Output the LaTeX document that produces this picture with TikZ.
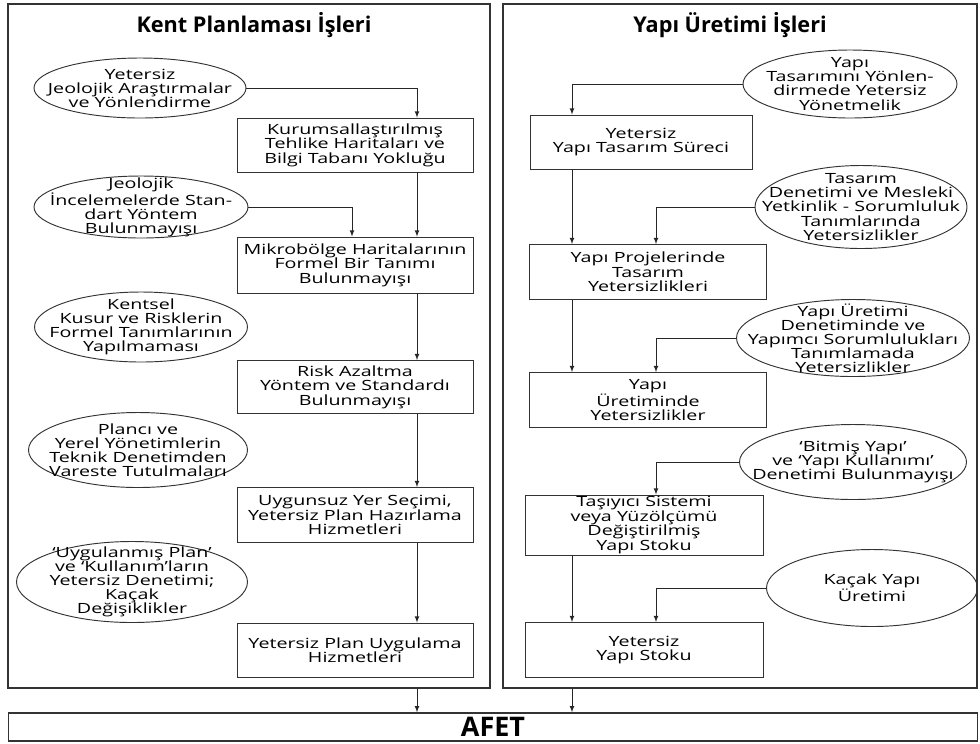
\documentclass[tikz,border=0pt]{standalone}
\usepackage{fontspec}
\setmainfont{Open Sans}
\newfontfamily\boxfont[FakeStretch=1.4]{Open Sans}
\newcommand{\issuefont}{\boxfont\fontsize{12}{12.4}\selectfont}
\newcommand{\causefont}{\boxfont\fontsize{12}{12}\selectfont}
\usetikzlibrary{arrows,calc,shapes}
\tikzset{>=latex}
\tikzstyle{panel}=[rectangle,draw=black!80,line width=1.3pt,inner sep=0pt]
\tikzstyle{issue}=[rectangle,draw=black!80,thick,align=center,inner sep=0pt,font=\issuefont]
\tikzstyle{cause}=[ellipse,draw=black!80,thick,align=center,inner xsep=-3cm,inner ysep=-2cm,font=\causefont]
\tikzstyle{heading}=[font=\bfseries\fontsize{18.5}{20}\selectfont]
\tikzstyle{link}=[->,draw=black!85,thick]

\begin{document}
\begin{tikzpicture}[x=0.03cm,y=-0.03cm]
	\def \unit {0.03};
	\useasboundingbox (0,0) rectangle (980,743);

	\node[panel, minimum width=482*\unit cm, minimum height=684*\unit cm] (panelL) at (249,346) {};
	\node[panel, minimum width=474*\unit cm, minimum height=684*\unit cm] (panelR) at (740,346) {};
	\node[panel, minimum width=969*\unit cm, minimum height=28*\unit cm, font=\bfseries\fontsize{23}{24}\selectfont] (afet) at (493,727) {AFET};

	\node[heading] (headL) at (254,25) {Kent Planlaması İşleri};
	\node[heading] (headR) at (730,25) {Yapı Üretimi İşleri};

	\coordinate (colL) at (417,0);
	\coordinate (colLe) at (352,0);
	\coordinate (colR) at (572,0);
	\coordinate (colRe) at (656,0);

	% kent planlamasi
	\node[issue, minimum width=236*\unit cm, minimum height=54*\unit cm] (b1) at (355,145) {Kurumsallaştırılmış\\Tehlike Haritaları ve\\Bilgi Tabanı Yokluğu};
	\node[issue, minimum width=236*\unit cm, minimum height=56*\unit cm] (b2) at (355,265) {Mikrobölge Haritalarının\\Formel Bir Tanımı\\Bulunmayışı};
	\node[issue, minimum width=236*\unit cm, minimum height=53*\unit cm] (b3) at (355,387) {Risk Azaltma\\Yöntem ve Standardı\\Bulunmayışı};
	\node[issue, minimum width=236*\unit cm, minimum height=55*\unit cm] (b4) at (355,515) {Uygunsuz Yer Seçimi,\\Yetersiz Plan Hazırlama\\Hizmetleri};
	\node[issue, minimum width=236*\unit cm, minimum height=54*\unit cm] (b5) at (355,650) {Yetersiz Plan Uygulama\\Hizmetleri};

	\node[cause, minimum width=212*\unit cm, minimum height=60*\unit cm] (e1) at (140,88) {Yetersiz\\Jeolojik Araştırmalar\\ve Yönlendirme};
	\node[cause, minimum width=214*\unit cm, minimum height=62*\unit cm] (e2) at (141,207) {Jeolojik\\İncelemelerde Stan-\\dart Yöntem\\Bulunmayışı};
	\node[cause, minimum width=213*\unit cm, minimum height=70*\unit cm] (e3) at (141,327) {Kentsel\\Kusur ve Risklerin\\Formel Tanımlarının\\Yapılmaması};
	\node[cause, minimum width=219*\unit cm, minimum height=75*\unit cm] (e4) at (138,450) {Plancı ve\\Yerel Yönetimlerin\\Teknik Denetimden\\Vareste Tutulmaları};
	\node[cause, minimum width=231*\unit cm, minimum height=81*\unit cm] (e5) at (132,582) {‘Uygulanmış Plan’\\ve ‘Kullanım’ların\\Yetersiz Denetimi;\\Kaçak\\Değişiklikler};

	\foreach \i in {1,...,4} {
		\pgfmathtruncatemacro{\iplusone}{\i + 1};
		\draw[link] (b\i.south -| colL) -- (b\iplusone.north -| colL);
	};
	\draw[link] (e1.east) -| (b1.north -| colL);
	\draw[link] (e2.east) -| (b2.north -| colLe);

	% yapi uretimi
	\node[issue, minimum width=222*\unit cm, minimum height=54*\unit cm] (r1) at (641,142) {Yetersiz\\Yapı Tasarım Süreci};
	\node[issue, minimum width=237*\unit cm, minimum height=55*\unit cm] (r2) at (648,272) {Yapı Projelerinde\\Tasarım\\Yetersizlikleri};
	\node[issue, minimum width=237*\unit cm, minimum height=55*\unit cm] (r3) at (648,400) {Yapı\\Üretiminde\\Yetersizlikler};
	\node[issue, minimum width=238*\unit cm, minimum height=60*\unit cm] (r4) at (644,525) {Taşıyıcı Sistemi\\veya Yüzölçümü\\Değiştirilmiş\\Yapı Stoku};
	\node[issue, minimum width=238*\unit cm, minimum height=55*\unit cm] (r5) at (644,650) {Yetersiz\\Yapı Stoku};

	\node[cause, minimum width=214*\unit cm, minimum height=68*\unit cm] (f1) at (850,84) {Yapı\\Tasarımını Yönlen-\\dirmede Yetersiz\\Yönetmelik};
	\node[cause, minimum width=212*\unit cm, minimum height=83*\unit cm] (f2) at (861,207) {Tasarım\\Denetimi ve Mesleki\\Yetkinlik - Sorumluluk\\Tanımlarında\\Yetersizlikler};
	\node[cause, minimum width=233*\unit cm, minimum height=77*\unit cm] (f3) at (853,338) {Yapı Üretimi\\Denetiminde ve\\Yapımcı Sorumlulukları\\Tanımlamada\\Yetersizlikler};
	\node[cause, minimum width=227*\unit cm, minimum height=75*\unit cm] (f4) at (853,462) {‘Bitmiş Yapı’\\ve ‘Yapı Kullanımı’\\Denetimi Bulunmayışı};
	\node[cause, minimum width=211*\unit cm, minimum height=77*\unit cm] (f5) at (872,588) {Kaçak Yapı\\Üretimi};

	\foreach \i in {1,2,4} {
		\pgfmathtruncatemacro{\iplusone}{\i + 1};
		\draw[link] (r\i.south -| colR) -- (r\iplusone.north -| colR);
	};
	\draw[link] (f1.west) -| (r1.north -| colR);
	\foreach \i in {2,...,5} {
		\draw[link] (f\i.west) -| (r\i.north -| colRe);
	};

	\draw[link] (panelL.south -| colL) -- (afet.north -| colL);
	\draw[link] (panelR.south -| colR) -- (afet.north -| colR);
\end{tikzpicture}
\end{document}
